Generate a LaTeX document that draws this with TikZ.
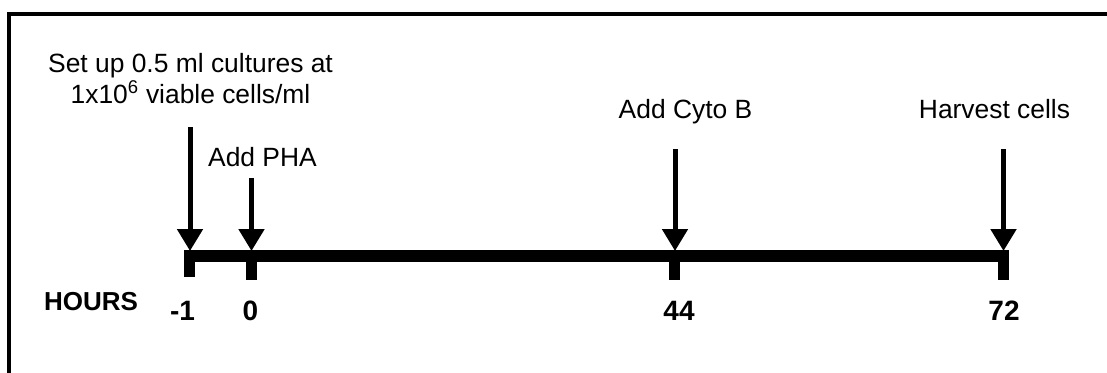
\documentclass[tikz,border=0pt]{standalone}
\usepackage{fontspec}
\setmainfont{Liberation Sans}
\usetikzlibrary{arrows.meta}
\begin{document}
\begin{tikzpicture}[x=1pt,y=-1pt,
  lbl/.style={inner sep=0pt,font=\fontsize{26.4}{31}\selectfont},
  hr/.style={inner sep=0pt,font=\fontsize{28}{32}\selectfont\bfseries},
  tickmark/.style={fill=black,draw=none},
  event/.style={line width=5pt,-{Triangle[width=25pt,length=22pt]}}]
\useasboundingbox (0,0) rectangle (1107,372);
\clip (0,0) rectangle (1107,372);
% outer frame (open to the right and bottom)
\draw[line width=4pt] (9,380) -- (9,14) -- (1115,14);
% time axis
\fill (184,250) rectangle (1009,262);
\fill[tickmark] (184,250) rectangle (195,277);
\fill[tickmark] (246,250) rectangle (257,280);
\fill[tickmark] (669,250) rectangle (680,280);
\fill[tickmark] (998,250) rectangle (1009,280);
\coordinate (tm1) at (190,251);
\coordinate (t0) at (251.5,251);
\coordinate (t44) at (675,251);
\coordinate (t72) at (1003.5,251);
% arrow starts
\coordinate (sm1) at (190,127);
\coordinate (s0) at (251.5,178);
\coordinate (s44) at (675,149);
\coordinate (s72) at (1003.5,149);
\draw[event] (sm1) -- (tm1);
\draw[event] (s0) -- (t0);
\draw[event] (s44) -- (t44);
\draw[event] (s72) -- (t72);
% event labels
\node[lbl,anchor=base] (setup1) at (190.5,72) {Set up 0.5 ml cultures at};
\node[lbl,anchor=base] (setup2) at (190.5,103) {1x10\textsuperscript{6} viable cells/ml};
\node[lbl,anchor=base west] (pha) at (208,166) {Add PHA};
\node[lbl,anchor=base] (cyto) at (685.5,118) {Add Cyto B};
\node[lbl,anchor=base] (harv) at (994.5,118) {Harvest cells};
% hour labels
\node[inner sep=0pt,anchor=base west,font=\fontsize{26}{30}\selectfont\bfseries] (hours) at (44,310) {HOURS};
\node[hr,anchor=base] (hm1) at (182.5,320) {-1};
\node[hr,anchor=base] (h0) at (250.5,320) {0};
\node[hr,anchor=base] (h44) at (679,320) {44};
\node[hr,anchor=base] (h72) at (1004,320) {72};
\end{tikzpicture}
\end{document}
